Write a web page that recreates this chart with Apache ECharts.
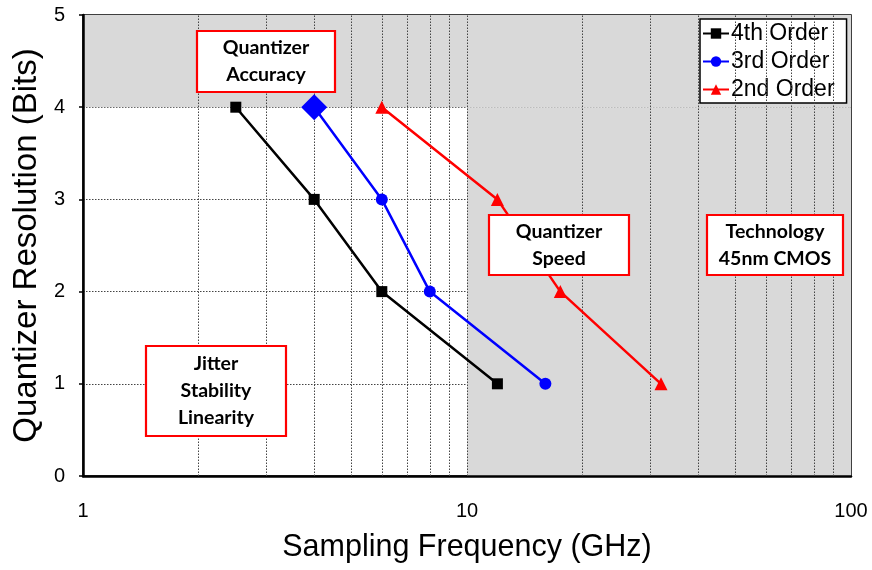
<!DOCTYPE html>
<html>
<head>
<meta charset="utf-8">
<script src="https://cdn.jsdelivr.net/npm/echarts@6/dist/echarts.min.js"></script>
<style>html,body{margin:0;padding:0;background:#fff;}#c{width:872px;height:570px;}</style>
</head>
<body>
<div id="c"></div>
<script>
// ---- data ----
const bitsLevels = [4, 3, 2, 1];
const freq4th = [2.5, 4, 6, 12];
const freq3rd = [4, 6, 8, 16];
const freq2nd = [6, 12, 17.5, 32];
const seriesNames = ['4th Order', '3rd Order', '2nd Order'];
const xTickLabels = [1, 10, 100];
const yTickLabels = [0, 1, 2, 3, 4, 5];
const verticalGridFreqs = [2, 3, 4, 5, 6, 7, 8, 9, 10, 20, 30, 40, 50, 60, 70, 80, 90];
const shadedRegions = [[[1, 4], [100, 5]], [[10, 0], [100, 4]]];
const notes = ['Quantizer\nAccuracy', 'Quantizer\nSpeed', 'Technology\n45nm CMOS', 'Jitter\nStability\nLinearity'];

const chart = echarts.init(document.getElementById('c'), null, {renderer: 'canvas'});
const FONT = '"Liberation Sans", Arial, sans-serif';

function pairs(xs, ys) { return xs.map((x, i) => [x, ys[i]]); }

const d3 = pairs(freq3rd, bitsLevels).map((p, i) => i === 0 ? {value: p, symbol: 'diamond', symbolSize: 26} : p);

function note(id, text, x, y, w, h) {
  return [
    {type: 'rect', id: id + '_r', z: 100, shape: {x: x, y: y, width: w, height: h},
     style: {fill: '#fff', stroke: '#ff0000', lineWidth: 2.2}},
    {type: 'text', id: id + '_t', z: 101, x: x + w / 2, y: y + h / 2,
     style: {text: text, fill: '#000', fontSize: 19.5, fontWeight: 'bold', fontFamily: 'Lato, "Open Sans", sans-serif',
             align: 'center', verticalAlign: 'middle', lineHeight: 27}}
  ];
}

const option = {
  animation: false,
  backgroundColor: '#fff',
  grid: {left: 83, right: 21, top: 15, bottom: 94, containLabel: false, outerBoundsMode: 'none',
         show: true, borderColor: '#000', borderWidth: 1.5, z: 1},
  xAxis: {
    type: 'log', logBase: 10, min: xTickLabels[0], max: xTickLabels[xTickLabels.length - 1], z: 1,
    axisLine: {lineStyle: {color: '#000', width: 2.5}},
    axisTick: {show: false},
    splitLine: {show: false},
    axisLabel: {color: '#000', fontSize: 20, fontFamily: FONT, margin: 25},
    name: 'Sampling Frequency (GHz)', nameLocation: 'middle', nameGap: 56,
    nameTextStyle: {color: '#000', fontSize: 30.5, fontFamily: FONT}
  },
  yAxis: {
    type: 'value', min: yTickLabels[0], max: yTickLabels[yTickLabels.length - 1], interval: 1, z: 1,
    axisLine: {show: true, lineStyle: {color: '#000', width: 2.5}},
    axisTick: {show: true, length: 4, lineStyle: {color: '#000', width: 1.5}},
    splitLine: {show: true, lineStyle: {color: '#444', type: [1.5, 1.5], width: 1}},
    axisLabel: {color: '#000', fontSize: 20, fontFamily: FONT, margin: 18},
    name: 'Quantizer Resolution (Bits)', nameLocation: 'middle', nameGap: 31,
    nameTextStyle: {color: '#000', fontSize: 33, fontFamily: FONT}
  },
  legend: {
    data: seriesNames, orient: 'vertical', left: 700, top: 19,
    backgroundColor: '#fff', borderColor: '#000', borderWidth: 1.5,
    padding: [3, 12, 2, 2], itemGap: 5, itemWidth: 26, itemHeight: 13,
    textStyle: {color: '#000', fontSize: 23, fontFamily: FONT, padding: [0, 0, 0, -3]}
  },
  series: [
    {
      name: 'shade', type: 'line', data: [], z: 0, silent: true,
      markArea: {silent: true, itemStyle: {color: '#d9d9d9'},
        data: shadedRegions.map(r => [{coord: r[0]}, {coord: r[1]}])}
    },
    {
      name: 'vgrid', type: 'line', data: [], z: 1, silent: true,
      markLine: {silent: true, symbol: 'none', label: {show: false},
        lineStyle: {color: '#444', type: [1.5, 1.5], width: 1},
        data: verticalGridFreqs.map(v => ({xAxis: v}))}
    },
    {
      name: seriesNames[0], type: 'line', z: 5, data: pairs(freq4th, bitsLevels),
      symbol: 'rect', symbolSize: 11, color: '#000',
      lineStyle: {color: '#000', width: 2.5}, itemStyle: {color: '#000'}
    },
    {
      name: seriesNames[1], type: 'line', z: 5, data: d3,
      symbol: 'circle', symbolSize: 12, color: '#0000ff',
      lineStyle: {color: '#0000ff', width: 2.5}, itemStyle: {color: '#0000ff'}
    },
    {
      name: seriesNames[2], type: 'line', z: 5, data: pairs(freq2nd, bitsLevels),
      symbol: 'triangle', symbolSize: 13, color: '#ff0000',
      lineStyle: {color: '#ff0000', width: 2.5}, itemStyle: {color: '#ff0000'}
    }
  ],
  graphic: [].concat(
    note('n1', notes[0], 197, 31, 138, 61),
    note('n2', notes[1], 489, 215, 140, 60),
    note('n3', notes[2], 707, 215, 136, 60),
    note('n4', notes[3], 146, 346, 140, 90)
  )
};
chart.setOption(option);
</script>
</body>
</html>
